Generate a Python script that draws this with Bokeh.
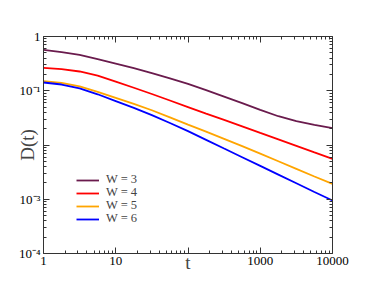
from bokeh.plotting import figure
from bokeh.models import Range1d, LogAxis, FixedTicker, Legend, LegendItem
from bokeh.embed import file_html
from bokeh.resources import INLINE

# data (t, D(t))
t = [1, 1.78, 3.16, 5.62, 10, 17.8, 31.6, 56.2, 100, 178, 316, 562, 1000, 1780, 3160, 5620, 10000]
d_w3 = [0.5689, 0.5129, 0.4571, 0.3846, 0.3162, 0.2600, 0.2113, 0.1698, 0.1334, 0.1023, 0.0782,
        0.0592, 0.0445, 0.0339, 0.0275, 0.0234, 0.0204]
d_w4 = [0.2649, 0.2512, 0.2265, 0.1905, 0.1479, 0.1135, 0.0871, 0.0661, 0.0501, 0.0380, 0.0290,
        0.0221, 0.0167, 0.0127, 0.00964, 0.00731, 0.00556]
d_w5 = [0.1500, 0.1396, 0.1202, 0.0955, 0.0741, 0.0575, 0.0437, 0.0324, 0.0237, 0.0176, 0.0130,
        0.00955, 0.00692, 0.00501, 0.00363, 0.00263, 0.00192]
d_w6 = [0.1419, 0.1303, 0.1109, 0.0861, 0.0646, 0.0484, 0.0355, 0.0254, 0.0180, 0.01245, 0.00861,
        0.00596, 0.00412, 0.00285, 0.00197, 0.00136, 0.000948]
series_labels = ["W = 3", "W = 4", "W = 5", "W = 6"]
series_colors = ["#6a1b4d", "#ff0000", "#ffa500", "#0000ff"]

x_ticks = [1, 10, 100, 1000, 10000]
x_tick_labels = ["1", "10", "", "1000", "10000"]
y_ticks = [1e-4, 1e-3, 1e-2, 1e-1, 1]
y_tick_labels = ["10\u207b\u2074", "10\u207b\u00b3", "", "10\u207b\u00b9", "1"]

x_minor = [k * 10 ** e for e in range(0, 4) for k in range(2, 10)]
y_minor = [k * 10.0 ** e for e in range(-4, 0) for k in range(2, 10)]

FONT = "Liberation Serif"

p = figure(width=366, height=281, x_axis_type="log", y_axis_type="log",
           x_range=Range1d(1, 10000), y_range=Range1d(1e-4, 1),
           output_backend="svg", toolbar_location=None,
           min_border_left=43, min_border_right=34, min_border_top=36, min_border_bottom=28)
p.grid.visible = False
p.outline_line_color = None
p.background_fill_color = "white"
p.border_fill_color = "white"

renderers = []
for ys, c in zip([d_w3, d_w4, d_w5, d_w6], series_colors):
    r = p.line(t, ys, line_color=c, line_width=1.8)
    renderers.append(r)

def style_axis(ax, ticks, minor, labels, show):
    ax.ticker = FixedTicker(ticks=ticks, minor_ticks=minor)
    ax.major_label_overrides = {tk: (lb if show else "") for tk, lb in zip(ticks, labels)}
    ax.major_tick_in = 6
    ax.major_tick_out = 0
    ax.minor_tick_in = 3
    ax.minor_tick_out = 0
    ax.axis_line_color = "#333333"
    ax.major_tick_line_color = "#333333"
    ax.minor_tick_line_color = "#333333"
    ax.major_label_text_font = FONT
    ax.major_label_text_font_size = "13px"
    ax.major_label_text_color = "black"
    ax.major_label_standoff = 3

xa = p.xaxis[0]
style_axis(xa, x_ticks, x_minor, x_tick_labels, True)
xa.axis_label = "t"
xa.axis_label_text_font = FONT
xa.axis_label_text_font_size = "19px"
xa.axis_label_text_font_style = "normal"
xa.axis_label_standoff = -16

ya = p.yaxis[0]
style_axis(ya, y_ticks, y_minor, y_tick_labels, True)
ya.axis_label = "D(t)"
ya.axis_label_text_font = FONT
ya.axis_label_text_font_size = "19px"
ya.axis_label_text_font_style = "normal"
ya.axis_label_standoff = -22

top = LogAxis()
style_axis(top, x_ticks, x_minor, x_tick_labels, False)
p.add_layout(top, "above")
right = LogAxis()
style_axis(right, y_ticks, y_minor, y_tick_labels, False)
p.add_layout(right, "right")

# one single-item legend per row so the row pitch matches the reference
row_offsets = [66, 53, 40, 27]
for lb, r, yo in zip(series_labels, renderers, row_offsets):
    legend = Legend(items=[LegendItem(label=lb, renderers=[r])], location=(33, yo))
    legend.background_fill_alpha = 0
    legend.border_line_color = None
    legend.label_text_font = FONT
    legend.label_text_font_size = "12.5px"
    legend.label_text_line_height = 1.0
    legend.glyph_width = 23
    legend.glyph_height = 12
    legend.label_height = 12
    legend.label_standoff = 7
    legend.spacing = 0
    legend.padding = 0
    legend.margin = 0
    p.add_layout(legend, "center")

open("out.html", "w").write(file_html(p, INLINE))
